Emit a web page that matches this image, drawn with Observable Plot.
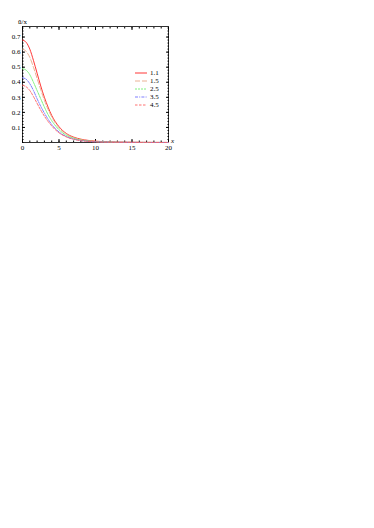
<!DOCTYPE html>
<html><head><meta charset="utf-8">
<script src="https://cdn.jsdelivr.net/npm/d3@7"></script>
<script src="https://cdn.jsdelivr.net/npm/@observablehq/plot@0.6"></script>
<style>
body{margin:0;background:#fff;font-family:"Liberation Serif",serif;}
#wrap{position:relative;width:374px;height:528px;}
#legend{position:absolute;left:0;top:0;}
svg text{font-family:"Liberation Serif",serif !important;}
</style></head><body><div id="wrap"></div>
<script>
const xs = [0,0.5,1,1.5,2,2.5,3,3.5,4,5,6,7,8,9,10,12,14,16,18,20];
const s11 = [0.68,0.665,0.62,0.545,0.46,0.375,0.30,0.235,0.18,0.105,0.06,0.036,0.022,0.014,0.009,0.004,0.002,0.001,0.0005,0.0002];
const s15 = [0.62,0.605,0.565,0.50,0.425,0.35,0.28,0.22,0.17,0.098,0.056,0.033,0.02,0.012,0.008,0.003,0.0015,0.0008,0.0004,0.0002];
const s25 = [0.49,0.48,0.45,0.40,0.345,0.29,0.235,0.185,0.145,0.085,0.048,0.028,0.016,0.01,0.006,0.0025,0.001,0.0005,0.0003,0.0001];
const s35 = [0.43,0.42,0.39,0.345,0.29,0.24,0.195,0.155,0.12,0.07,0.04,0.023,0.013,0.008,0.005,0.002,0.001,0.0005,0.0002,0.0001];
const s45 = [0.38,0.37,0.345,0.305,0.26,0.215,0.175,0.14,0.11,0.064,0.037,0.021,0.012,0.007,0.004,0.0015,0.0007,0.0003,0.0002,0.0001];
const labels = ["1.1","1.5","2.5","3.5","4.5"];
const seriesVals = [s11,s15,s25,s35,s45];
const colors = ["#ff2020","#e8a888","#70f070","#7070ff","#ff6060"];
const dashes = [null,"5,2","2,1","3,1.2,1,1.2","2.5,1.5"];
const xTicks = [0,5,10,15,20];
const yTicks = [0.1,0.2,0.3,0.4,0.5,0.6,0.7];

const data = [];
labels.forEach((k,i)=>seriesVals[i].forEach((v,j)=>data.push({k,x:xs[j],y:v})));

const xMinor = d3.range(0,20.01,1);
const yMinor = d3.range(0,0.771,0.02);
const W=374,H=528,mL=22,mR=206,mT=26,mB=386;
const font = {fontFamily:"Liberation Serif"};
const none = () => "";
const marks = [
  Plot.frame({stroke:"#000",strokeWidth:0.8}),
  Plot.axisX(xTicks,{anchor:"bottom",tickSize:-3,tickPadding:6,fontSize:7,label:null,...font}),
  Plot.axisX(xMinor,{anchor:"bottom",tickSize:-1.5,tickFormat:none,label:null}),
  Plot.axisX(xTicks,{anchor:"top",tickSize:-3,tickFormat:none,label:null}),
  Plot.axisX(xMinor,{anchor:"top",tickSize:-1.5,tickFormat:none,label:null}),
  Plot.axisY(yTicks,{anchor:"left",tickSize:-3,tickPadding:5,fontSize:7,tickFormat:d3.format(".1f"),label:null,...font}),
  Plot.axisY(yMinor,{anchor:"left",tickSize:-1.5,tickFormat:none,label:null}),
  Plot.axisY(yTicks,{anchor:"right",tickSize:-3,tickFormat:none,label:null}),
  Plot.axisY(yMinor,{anchor:"right",tickSize:-1.5,tickFormat:none,label:null}),
];
labels.forEach((k,i)=>{
  marks.push(Plot.line(data.filter(d=>d.k===k),{x:"x",y:"y",stroke:colors[i],strokeWidth:0.9,strokeDasharray:dashes[i],curve:"monotone-x"}));
});
const chart = Plot.plot({
  width:W,height:H,marginLeft:mL,marginRight:mR,marginTop:mT,marginBottom:mB,
  style:{background:"#fff",fontFamily:"Liberation Serif"},
  x:{domain:[0,20],axis:null},
  y:{domain:[0,0.77],axis:null},
  marks
});
document.getElementById("wrap").appendChild(chart);

const svg = d3.select("#wrap").append("svg").attr("id","legend").attr("width",W).attr("height",H)
  .style("font-family","Liberation Serif");
svg.append("text").attr("x",171).attr("y",143).attr("font-size",7).attr("font-style","italic").text("x");
svg.append("text").attr("x",18).attr("y",23.5).attr("font-size",7).text("ū/x");
labels.forEach((k,i)=>{
  const y = 73 + i*8;
  svg.append("line").attr("x1",135).attr("x2",147).attr("y1",y).attr("y2",y)
    .attr("stroke",colors[i]).attr("stroke-width",0.9).attr("stroke-dasharray",dashes[i]);
  svg.append("text").attr("x",150).attr("y",y+2.3).attr("font-size",7).text(k);
});
</script></body></html>
